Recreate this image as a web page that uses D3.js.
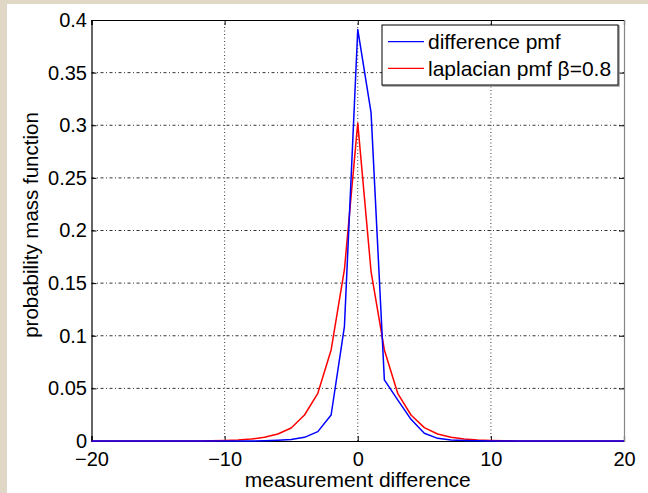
<!DOCTYPE html>
<html>
<head>
<meta charset="utf-8">
<script src="https://cdn.jsdelivr.net/npm/d3@7"></script>
<style>
  body { margin: 0; background: #e0d7c6; }
  svg { display: block; }
  text { font-family: "Liberation Sans", Arial, Helvetica, sans-serif; fill: #000; }
</style>
</head>
<body>
<div id="chart"></div>
<script>
// measurement difference, -20..20
const diffs = d3.range(-20, 21);

const differencePmf = [
    0, 0, 0, 0, 0, 0, 0, 0, 0, 0,
    0, 0, 0, 0.0003, 0.0008, 0.0015, 0.0035, 0.0089, 0.0247, 0.109,
    0.391,
    0.312, 0.058, 0.039, 0.0206, 0.0073, 0.0025, 0.001, 0.0005, 0.0002, 0,
    0, 0, 0, 0, 0, 0, 0, 0, 0, 0
];

const laplacianPmf = [
    0, 0, 0, 0, 0, 0, 0, 0, 0.0001, 0.0002,
    0.0005, 0.001, 0.0018, 0.0035, 0.0067, 0.0124, 0.0247, 0.0453, 0.0865, 0.163,
    0.302,
    0.161, 0.0865, 0.0453, 0.0247, 0.0127, 0.0067, 0.0035, 0.0018, 0.001, 0.0005,
    0.0002, 0.0001, 0, 0, 0, 0, 0, 0, 0, 0
];

const xTicks = [-20, -10, 0, 10, 20];
const yTicks = [0, 0.05, 0.1, 0.15, 0.2, 0.25, 0.3, 0.35, 0.4];

const seriesNames = ["difference pmf", "laplacian pmf \u03B2=0.8"];
const seriesColors = ["#0000ff", "#ff0000"];

const W = 648, H = 493;
const margin = {top: 20, right: 24, bottom: 52, left: 91.5};
const width = W - margin.left - margin.right,
      height = H - margin.top - margin.bottom;

const root = d3.select("#chart").append("svg")
    .attr("width", W)
    .attr("height", H);

// white figure area over the beige page
root.append("rect")
    .attr("x", 7).attr("y", 4)
    .attr("width", W - 7).attr("height", H - 4)
    .attr("fill", "#fff");

const svg = root.append("g")
    .attr("transform", "translate(" + margin.left + "," + margin.top + ")");

const x = d3.scaleLinear().domain([-20, 20]).range([0, width]);
const y = d3.scaleLinear().domain([0, 0.4]).range([height, 0]);

// dash-dot grid
const grid = svg.append("g").attr("class", "grid")
    .attr("stroke", "#000")
    .attr("stroke-width", 0.8)
    .attr("stroke-dasharray", "1,2.5");

grid.selectAll("line.gx")
    .data(xTicks.slice(1, -1))
    .enter().append("line")
    .attr("x1", d => x(d)).attr("x2", d => x(d))
    .attr("y1", 0).attr("y2", height);

grid.selectAll("line.gy")
    .data(yTicks.slice(1, -1))
    .enter().append("line")
    .attr("y1", d => y(d)).attr("y2", d => y(d))
    .attr("x1", 0).attr("x2", width)
    .attr("stroke-dasharray", "3,2.5,1,2.5");

// axes, ticks inside like matlab
const tickLen = 5;
const fmtY = d => String(+d.toFixed(2));

const xAxisB = svg.append("g")
    .attr("transform", "translate(0," + height + ")")
    .call(d3.axisBottom(x).tickValues(xTicks).tickSize(-tickLen).tickPadding(11)
        .tickFormat(d => d < 0 ? "\u2212" + Math.abs(d) : d));
const xAxisT = svg.append("g")
    .call(d3.axisTop(x).tickValues(xTicks).tickSize(-tickLen).tickFormat(""));
const yAxisL = svg.append("g")
    .call(d3.axisLeft(y).tickValues(yTicks).tickSize(-tickLen).tickPadding(4.5).tickFormat(fmtY));
const yAxisR = svg.append("g")
    .attr("transform", "translate(" + width + ",0)")
    .call(d3.axisRight(y).tickValues(yTicks).tickSize(-tickLen).tickFormat(""));

[xAxisB, xAxisT, yAxisL, yAxisR].forEach(a => {
    a.selectAll("text").style("font-size", "20px").attr("fill", "#000");
    a.select(".domain").attr("stroke", "#000").attr("stroke-width", 1.2);
    a.selectAll(".tick line").attr("stroke", "#000");
});
yAxisR.select(".domain").attr("stroke", "#888");

// series
const line = d3.line()
    .x((d, i) => x(diffs[i]))
    .y(d => y(d));

[laplacianPmf, differencePmf].forEach((vals, k) => {
    svg.append("path")
        .datum(vals)
        .attr("fill", "none")
        .attr("stroke", k === 0 ? seriesColors[1] : seriesColors[0])
        .attr("stroke-width", 1.5)
        .attr("stroke-linejoin", "round")
        .attr("d", line);
});

// axis labels
root.append("text")
    .attr("x", margin.left + x(0))
    .attr("y", 487)
    .attr("text-anchor", "middle")
    .style("font-size", "21px")
    .text("measurement difference");

root.append("text")
    .attr("transform", "translate(38,225) rotate(-90)")
    .attr("text-anchor", "middle")
    .style("font-size", "20.5px")
    .text("probability mass function");

// legend
const legend = root.append("g").attr("transform", "translate(382,25)");
legend.append("rect")
    .attr("x", 1).attr("y", 1)
    .attr("width", 236).attr("height", 60)
    .attr("fill", "none").attr("stroke", "#999").attr("stroke-width", 1.5);
legend.append("rect")
    .attr("width", 236).attr("height", 60)
    .attr("fill", "#fff").attr("stroke", "#000").attr("stroke-width", 1);

seriesNames.forEach((name, i) => {
    const ly = 16.7 + i * 26.6;
    legend.append("line")
        .attr("x1", 6).attr("x2", 42)
        .attr("y1", ly).attr("y2", ly)
        .attr("stroke", seriesColors[i]).attr("stroke-width", 1.2);
    legend.append("text")
        .attr("x", 46).attr("y", ly)
        .attr("dy", "0.35em")
        .style("font-size", "21px")
        .text(name);
});
</script>
</body>
</html>
